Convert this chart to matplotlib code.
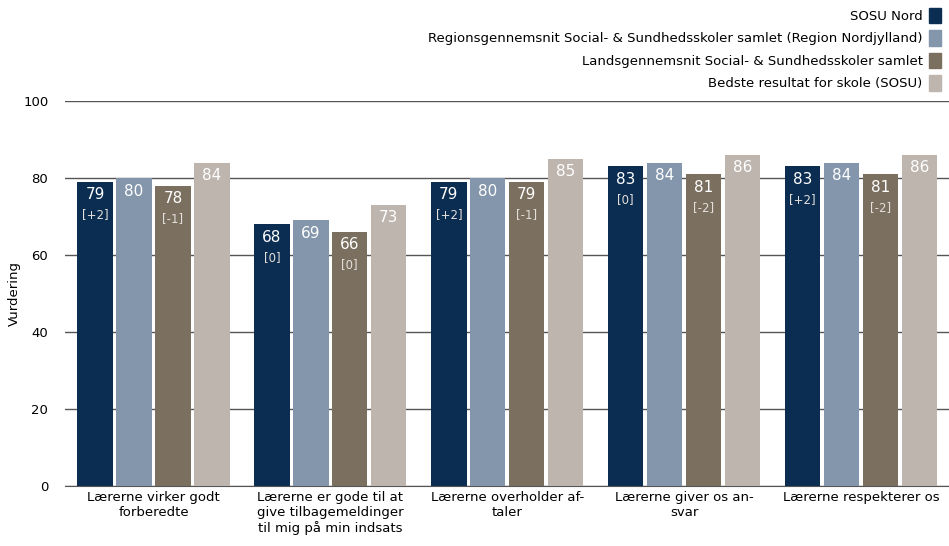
import matplotlib.pyplot as plt
import numpy as np
from matplotlib.patches import Patch

# categories and series
categories = [
    "Lærerne virker godt\nforberedte",
    "Lærerne er gode til at\ngive tilbagemeldinger\ntil mig på min indsats",
    "Lærerne overholder af-\ntaler",
    "Lærerne giver os an-\nsvar",
    "Lærerne respekterer os",
]
series_names = [
    "SOSU Nord",
    "Regionsgennemsnit Social- & Sundhedsskoler samlet (Region Nordjylland)",
    "Landsgennemsnit Social- & Sundhedsskoler samlet",
    "Bedste resultat for skole (SOSU)",
]
sosu_nord = [79, 68, 79, 83, 83]
region_avg = [80, 69, 80, 84, 84]
land_avg = [78, 66, 79, 81, 81]
best_school = [84, 73, 85, 86, 86]
# change vs. previous measurement, shown in brackets
sosu_nord_diff = ["[+2]", "[0]", "[+2]", "[0]", "[+2]"]
land_avg_diff = ["[-1]", "[0]", "[-1]", "[-2]", "[-2]"]

colors = ["#0b2d52", "#8496ab", "#7b6f5f", "#bdb5ae"]

fig = plt.figure(figsize=(9.49, 5.46), dpi=100)
ax = fig.add_axes([0.0685, 0.110, 0.932, 0.705])

x = np.arange(len(categories))
width = 0.2
step = 0.22
values = [sosu_nord, region_avg, land_avg, best_school]
diffs = [sosu_nord_diff, None, land_avg_diff, None]

for i, (vals, col) in enumerate(zip(values, colors)):
    pos = x + (i - 1.5) * step
    ax.bar(pos, vals, width=width, color=col, zorder=3)
    for j, (px, v) in enumerate(zip(pos, vals)):
        ax.annotate(str(v), (px, v), xytext=(0, -4), textcoords="offset points",
                    ha="center", va="top", color="white", fontsize=11, zorder=4)
        if diffs[i] is not None:
            ax.annotate(diffs[i][j], (px, v), xytext=(0, -19), textcoords="offset points",
                        ha="center", va="top", color="#e4dfda", fontsize=8.5, zorder=4)

ax.set_xlim(-0.5, len(categories) - 0.5)
ax.set_ylim(0, 100)
ax.set_yticks(range(0, 101, 20))
ax.yaxis.grid(True, color="#555555", linewidth=1, zorder=0)
ax.set_xticks(x)
ax.set_xticklabels(categories, fontsize=9.5)
ax.tick_params(axis="both", length=0, labelsize=9.5)
ax.tick_params(axis="y", pad=12)
for s in ["top", "right", "left"]:
    ax.spines[s].set_visible(False)
ax.spines["bottom"].set_color("#555555")
ax.set_ylabel("Vurdering", fontsize=9.5)
ax.yaxis.set_label_coords(-0.05, 0.5)

handles = [Patch(color=c) for c in colors]
fig.legend(handles, series_names, loc="upper right", bbox_to_anchor=(1.0, 1.0),
           frameon=False, markerfirst=False, fontsize=9.5, handlelength=0.9,
           handleheight=1.4, handletextpad=0.5, labelspacing=0.55, borderaxespad=0.2)

plt.savefig("out.png")
